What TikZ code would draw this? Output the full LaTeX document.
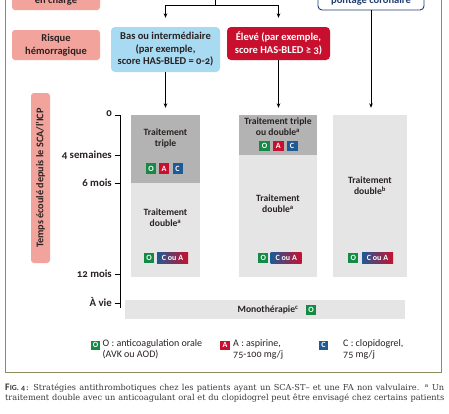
\documentclass[tikz,border=0pt]{standalone}
\usepackage{fontspec}
\setmainfont{Carlito}[Numbers=OldStyle]
\newfontfamily\capfont{DejaVu Serif}
\usetikzlibrary{arrows.meta}
\definecolor{pinkc}{HTML}{F2A39B}
\definecolor{lblue}{HTML}{A8DAF2}
\definecolor{crim}{HTML}{C8102E}
\definecolor{dgray}{HTML}{B3B3B3}
\definecolor{lgray}{HTML}{E5E5E5}
\definecolor{greenc}{HTML}{158A45}
\definecolor{bluec}{HTML}{1D5A96}
\definecolor{olive}{HTML}{8C8C5C}
\definecolor{pontc}{HTML}{1F3E6E}
\definecolor{txt}{HTML}{2A2222}
\definecolor{capc}{HTML}{3A3A3A}
\tikzset{
  pinkbox/.style={fill=pinkc, rounded corners=3pt, inner sep=0pt, text=txt, align=center,
    font=\fontsize{10.5}{12.5}\selectfont\bfseries},
  topbox/.style={rounded corners=4pt, inner sep=0pt, align=center,
    font=\fontsize{10.5}{12.5}\selectfont\bfseries},
  block/.style={inner sep=0pt, draw=none},
  coltxt/.style={align=center, inner sep=0pt, text=txt, font=\fontsize{9.6}{10.8}\selectfont\bfseries},
  badge/.style={inner sep=0pt, text=white, minimum width=10pt, minimum height=10.5pt,
    font=\fontsize{8}{8}\selectfont\bfseries},
  obadge/.style={badge, fill=greenc},
  abadge/.style={badge, fill=crim},
  cbadge/.style={badge, fill=bluec},
  cabadge/.style={badge, minimum width=31pt, left color=bluec, right color=crim},
  axlbl/.style={anchor=east, inner sep=0pt, text=txt, font=\fontsize{10.8}{12}\selectfont\bfseries},
  legtxt/.style={anchor=north west, align=left, inner sep=0pt, text=txt, font=\fontsize{10}{11.5}\selectfont},
  arr/.style={line width=0.8pt, -{Stealth[length=4.5pt,width=3.6pt]}},
  plain/.style={line width=0.8pt},
  captxt/.style={anchor=west, inner sep=0pt, text=capc, font=\capfont\fontsize{8.2}{9}\selectfont}
}
\begin{document}
\begin{tikzpicture}[x=1pt,y=-1pt]
\useasboundingbox (0,0) rectangle (449,413);
\fill[white] (0,0) rectangle (449,413);
% frame
\draw[olive, line width=0.9pt] (5,-10) rectangle (441.5,372);

% top row (cut off by the picture's edge)
\node[pinkbox, minimum width=88pt, minimum height=35pt] (prise) at (56,-7.5) {};
\node[coltxt, text=txt, font=\fontsize{10.5}{12.5}\selectfont\bfseries] (prisetxt) at (56,0.5) {en charge};
\node[topbox, fill=white, draw=pontc, line width=0.9pt, minimum width=106pt, minimum height=35pt] (pontage) at (371,-7.5) {};
\node[coltxt, text=pontc, font=\fontsize{10.5}{12.5}\selectfont\bfseries] (ponttxt) at (371,0.5) {pontage coronaire};

% second row
\node[pinkbox, minimum width=88pt, minimum height=30pt] (risque) at (56,45) {Risque\\hémorragique};
\node[topbox, fill=lblue, text=txt, minimum width=109pt, minimum height=45pt] (bas) at (165.5,49.5)
  {Bas ou intermédiaire\\(par exemple,\\score HAS-BLED = 0-2)};
\node[topbox, fill=crim, text=white, minimum width=103pt, minimum height=33pt] (eleve) at (278.5,43.5)
  {Élevé (par exemple,\\score HAS-BLED ≥ 3)};

% connectors top
\coordinate (topin) at (215,-12);
\coordinate (split) at (215,5.3);
\draw[plain] (topin) -- (split);
\draw[arr, shorten >=9pt] (split) -| (bas.north);
\draw[arr, shorten >=9pt] (split) -| (eleve.north);

% time label
\node[pinkbox, rotate=90, minimum width=170pt, minimum height=19pt, font=\fontsize{10.2}{12}\selectfont\bfseries] (temps) at (40.5,178)
  {Temps écoulé depuis le SCA/l'ICP};

% columns
\node[block, fill=dgray, minimum width=69pt, minimum height=68pt] (c1a) at (165.5,149) {};
\node[block, fill=lgray, minimum width=69pt, minimum height=94pt] (c1b) at (165.5,230) {};
\node[block, fill=dgray, minimum width=78pt, minimum height=40pt] (c2a) at (278,135) {};
\node[block, fill=lgray, minimum width=78pt, minimum height=122pt] (c2b) at (278,216) {};
\node[block, fill=lgray, minimum width=74pt, minimum height=162pt] (c3) at (370,196) {};

\node[coltxt] (t1a) at (165.5,138) {Traitement\\triple};
\node[coltxt] (t1b) at (165.5,218) {Traitement\\double\textsuperscript{a}};
\node[coltxt] (t2a) at (278,127) {Traitement triple\\ou double\textsuperscript{a}};
\node[coltxt] (t2b) at (278,204) {Traitement\\double\textsuperscript{a}};
\node[coltxt] (t3) at (370,186) {Traitement\\double\textsuperscript{b}};

% badges column 1
\node[obadge] (b1o) at (151,168.5) {O};
\node[abadge] (b1a) at (164,168.5) {A};
\node[cbadge] (b1c) at (177.5,168.5) {C};
\node[obadge] (b1o2) at (149,258) {O};
\node[cabadge] (b1ca) at (172.5,258) {C ou A};
% badges column 2
\node[obadge, minimum width=11pt] (b2o) at (264.7,146) {O};
\node[abadge, minimum width=11pt] (b2a) at (278.3,146) {A};
\node[cbadge, minimum width=11pt] (b2c) at (292,146) {C};
\node[obadge] (b2o2) at (263.3,258) {O};
\node[cabadge] (b2ca) at (286.2,258) {C ou A};
% badges column 3
\node[obadge] (b3o) at (353.3,258) {O};
\node[cabadge] (b3ca) at (377.5,258) {C ou A};

% arrows to columns
\draw[arr, shorten >=7pt] (bas.south) -- (bas.south |- c1a.north);
\draw[arr, shorten >=7pt] (eleve.south) -- (eleve.south |- c2a.north);
\draw[arr, shorten >=7pt] (pontage.south) -- (pontage.south |- c3.north);

% time axis
\coordinate (axtop) at (120,115);
\coordinate (axbot) at (120,308);
\draw[plain] (axtop) -- (axbot);
\foreach \yy/\nm in {115/a,155/b,183/c,274/d,303/e}{
  \coordinate (tk\nm) at (114.5,\yy);
  \draw[plain] (tk\nm) -- (120,\yy);
}
\node[axlbl] (l0) at (112,114) {0};
\node[axlbl] (l4s) at (112,155) {4 semaines};
\node[axlbl] (l6m) at (112,183) {6 mois};
\node[axlbl] (l12m) at (112,274) {12 mois};
\node[axlbl] (lvie) at (112,302) {À vie};

% monotherapy
\node[block, fill=lgray, minimum width=280pt, minimum height=19pt] (mono) at (265,309.5) {};
\node[coltxt] (monotxt) at (268,310) {Monothérapie\textsuperscript{c}};
\node[obadge] (bmo) at (311,310) {O};

% legend
\node[obadge, minimum width=9pt, minimum height=9pt] (lgo) at (95.5,345) {O};
\node[legtxt] (lgot) at (102.5,339) {O : anticoagulation orale\\(AVK ou AOD)};
\node[abadge, minimum width=10pt, minimum height=9pt] (lga) at (225,345) {A};
\node[legtxt] (lgat) at (233,339) {A : aspirine,\\75-100 mg/j};
\node[cbadge, minimum width=8.5pt, minimum height=9pt] (lgc) at (323.5,345) {C};
\node[legtxt] (lgct) at (343,339) {C : clopidogrel,\\75 mg/j};

% caption
\node[captxt] (cap1) at (5,388) {\makebox[439pt][s]{{\rmfamily\bfseries\fontsize{10}{9}\selectfont F\fontsize{7.8}{9}\selectfont IG. 4\,:} Stratégies antithrombotiques chez les patients ayant un SCA-ST– et une FA non valvulaire. \textsuperscript{a} Un}};
\node[captxt] (cap2) at (5,398.5) {\makebox[439pt][s]{traitement double avec un anticoagulant oral et du clopidogrel peut être envisagé chez certains patients}};
\end{tikzpicture}
\end{document}
